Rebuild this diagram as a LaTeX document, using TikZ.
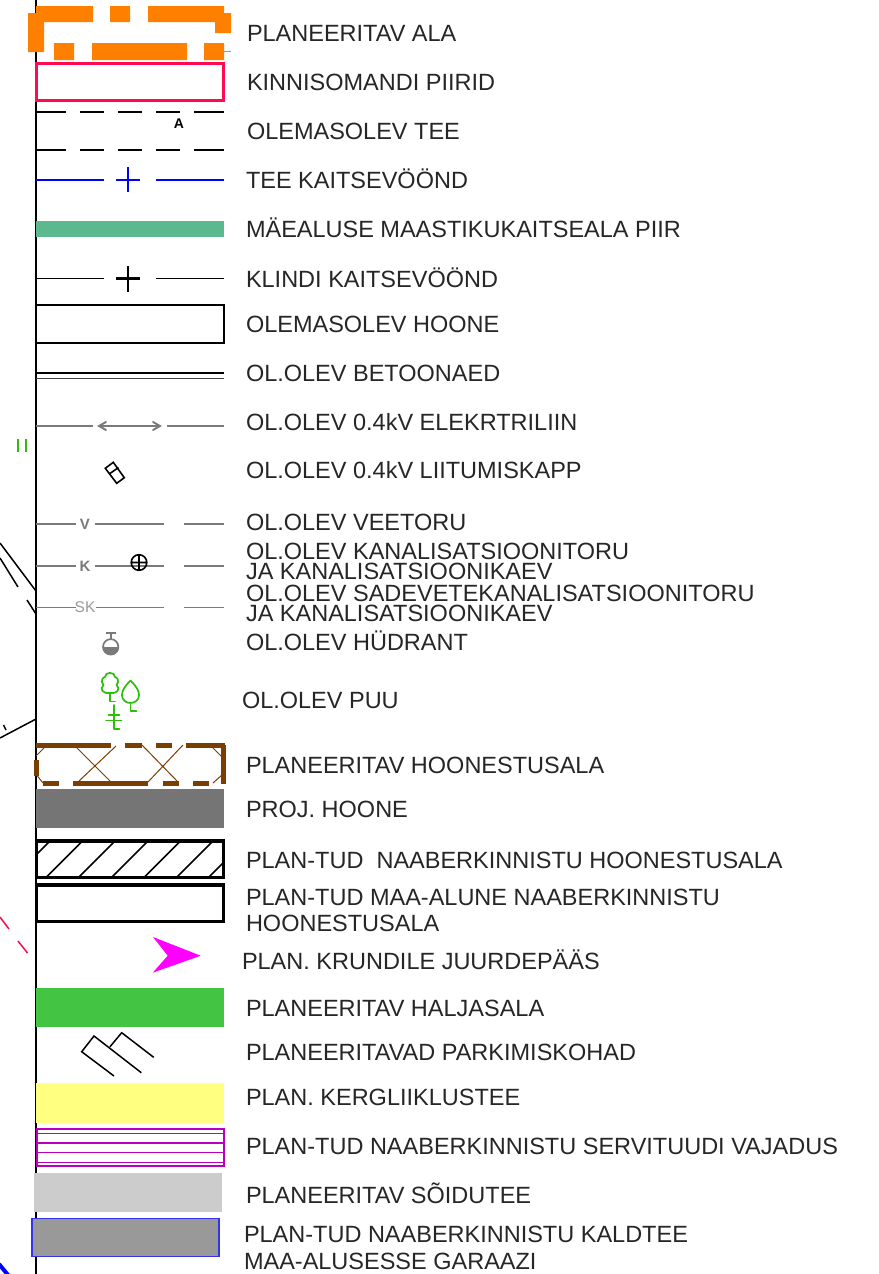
\documentclass[tikz,border=0pt]{standalone}
\usepackage{fontspec}
\setmainfont{Liberation Sans}
\definecolor{orng}{HTML}{FF8000}
\definecolor{crim}{HTML}{FF0A50}
\definecolor{seag}{HTML}{5CB88F}
\definecolor{lin}{HTML}{7A7A7A}
\definecolor{tree}{HTML}{2DBE0A}
\definecolor{brwn}{HTML}{7A3E00}
\definecolor{purp}{HTML}{BB00BB}
\definecolor{magn}{HTML}{FF00FF}
\definecolor{grass}{HTML}{43C443}
\definecolor{yell}{HTML}{FFFF80}
\definecolor{edgeblue}{HTML}{3333EE}
\tikzset{
  lbl/.style={anchor=base west,inner sep=0pt,outer sep=0pt,text=black!85,font=\fontsize{23.5}{23.5}\selectfont},
  small/.style={anchor=center,inner sep=0pt,text=lin,font=\bfseries\fontsize{15}{15}\selectfont},
  gline/.style={draw=lin,line width=1.7pt},
  fine/.style={draw=brwn,line width=1pt},
  brown/.style={draw=brwn,line width=4.8pt},
  tr/.style={draw=tree,line width=1.7pt,line cap=round,line join=round},
}
\begin{document}
\begin{tikzpicture}[x=1pt,y=-1pt]
\useasboundingbox (0,0) rectangle (878,1274);
\fill[white] (0,0) rectangle (878,1274);
% axis line and background fragments
\draw[black,line width=1.2pt] (36,0) -- (36,1274);
\draw[black,line width=1.5pt] (0,543) -- (36,591) (0,558) -- (18,587) (27,600) -- (36,614);
\draw[black,line width=1.5pt] (0,738) -- (36,719) (3.5,725) -- (6,730);
\draw[crim,line width=1.5pt] (0,917) -- (9,929) (18,941) -- (27.5,953);
\draw[blue,line width=4pt] (-1,1264) -- (8,1275);
\draw[tree,line width=1.5pt] (18,439) -- (18,452) (26,439) -- (26,452);
% planeeritav ala
\fill[orng] (36,6) rectangle (93,22) (110,6) rectangle (130,22) (148,6) rectangle (224,22)
  (28,13) rectangle (44,52) (215,13) rectangle (231,33)
  (54,43) rectangle (74,60) (92,43) rectangle (187,60) (204,43) rectangle (224,60);
\draw[orng,line width=0.8pt] (224,51.5) -- (231,51.5);
% kinnisomandi
\draw[crim,line width=3pt] (36.5,63) rectangle (223,100);
% tee
\draw[black,line width=1.8pt] (36,112) -- (66,112) (80,112) -- (104,112) (118,112) -- (142,112) (156,112) -- (180,112) (194,112) -- (224,112);
\draw[black,line width=1.8pt] (36,150) -- (66,150) (80,150) -- (104,150) (118,150) -- (142,150) (156,150) -- (180,150) (194,150) -- (224,150);
\node[anchor=center,inner sep=0pt,font=\bfseries\fontsize{14}{14}\selectfont] (teeA) at (179,124) {A};
% tee kaitsevoond
\draw[blue,line width=1.5pt] (36,180) -- (104,180) (156,180) -- (224,180);
\draw[blue,line width=2.8pt] (128,167) -- (128,192) (116,180) -- (140,180);
% maealuse
\fill[seag] (36,221) rectangle (224,237);
% klindi
\draw[black,line width=1.5pt] (36,278.3) -- (104,278.3) (156,278.3) -- (224,278.3);
\draw[black,line width=2.8pt] (128,266) -- (128,291.5) (116,278.3) -- (140,278.3);
% hoone
\draw[black,line width=2pt] (36.3,305) rectangle (223.5,342.7);
% betoonaed
\draw[black,line width=2pt] (36,372.7) -- (224,372.7);
\draw[black!75,line width=1.4pt] (36,378.3) -- (224,378.3);
% elektriliin
\draw[gline] (36,426) -- (93,426) (167,426) -- (224,426);
\draw[gline,line width=1.9pt,line cap=round] (99,426) -- (160,426) (106,422) -- (99,426) -- (106,430) (153,422) -- (160,426) -- (153,430);
% liitumiskapp
\draw[black,line width=1.6pt] (105.3,468.3) -- (113.3,462.3) -- (124.3,477.7) -- (116.7,483.3) -- cycle (109.5,473.8) -- (118.5,467.5);
% veetoru
\draw[gline] (36,524) -- (76,524) (95,524) -- (164,524) (184,524) -- (224,524);
\node[small] (vv) at (85,524) {V};
% kanal
\draw[gline] (36,566) -- (76,566) (95,566) -- (164,566) (184,566) -- (224,566);
\node[small] (kk) at (85,566) {K};
\draw[black,line width=1.6pt] (139,562.5) circle (7.8) (131,562.5) -- (147,562.5) (139,554.5) -- (139,570.5);
% sade
\draw[lin,line width=1pt] (36,607) -- (76,607) (96,607) -- (164,607) (184,607) -- (224,607);
\node[small,text=black!40,font=\fontsize{15.5}{15.5}\selectfont] (sk) at (85,607.5) {SK};
% hydrant
\draw[lin,line width=1.7pt] (110.7,633) -- (110.7,639) (106,633) -- (116,633);
\draw[lin,line width=1.7pt] (110.7,646.7) circle (7.6);
\fill[lin] (102.3,647) arc[start angle=180,end angle=360,x radius=8.4,y radius=-8.4];
% puud
\draw[tr] (110,693) -- (110,701.5) -- (115,701.5);
\draw[tr] (110,693) .. controls (103,694) and (99,689) .. (103.5,685) .. controls (100,681) and (103,677) .. (105,677) .. controls (105,671.5) and (115,671.5) .. (115,677) .. controls (117,677) and (120,681) .. (116.5,685) .. controls (121,689) and (117,694) .. (110,693);
\draw[tr] (130.5,680.5) .. controls (124,687) and (122,691) .. (122,695) .. controls (122,700) and (126,703) .. (130.5,703) .. controls (135,703) and (139,700) .. (139,695) .. controls (139,691) and (137,687) .. (130.5,680.5);
\draw[tr] (130.5,703) -- (130.5,711) -- (136.5,711);
\draw[tr] (114,705) -- (114,729) -- (119.5,729) (108.5,715) -- (119.5,715) (106,720.5) -- (121.5,720.5);
% hoonestusala
\draw[brown] (36,745.7) -- (111,745.7) (125,745.7) -- (142,745.7) (156,745.7) -- (172,745.7) (186,745.7) -- (225,745.7);
\draw[brown] (43,783.3) -- (59,783.3) (73,783.3) -- (148,783.3) (163,783.3) -- (179,783.3) (193,783.3) -- (209,783.3);
\draw[brown] (36.5,760) -- (36.5,776) (223.8,745) -- (223.8,784);
\draw[fine] (76,747) -- (110,781) (116,746) -- (79,781) (142,745) -- (177,781) (183,745) -- (148,782);
\draw[fine] (45,747) -- (36,756) (35,773) -- (43,783) (212,747) -- (222,757) (222,775) -- (213,783);
% proj hoone
\fill[lin!96!black] (36,789) rectangle (224,828);
% hatched
\begin{scope}
\clip (36,840) rectangle (224,878);
\draw[black,line width=1.5pt] (0,891) -- (60,831) (0,923.5) -- (100,823.5) (0,956) -- (140,816) (30,959) -- (170,819) (60,961.5) -- (200,821.5) (90,964) -- (230,824) (120,966) -- (260,826);
\end{scope}
\draw[black,line width=3.8pt] (36.5,841) rectangle (223.5,877.5);
\draw[black,line width=3.8pt] (36.5,885) rectangle (223.5,921.5);
% juurdepaas
\fill[magn] (153,937) -- (200.7,955.7) -- (152.7,972.7) -- (167.7,955.7) -- cycle;
% haljasala
\fill[grass] (36,988) rectangle (224,1027);
% parkimine
\draw[black,line width=1.5pt] (114,1076) -- (81.7,1051.7) -- (94,1036) -- (141.3,1072.7) (110,1046.7) -- (121.7,1032.7) -- (153.7,1057.3);
% kergliiklustee
\fill[yell] (35.5,1083) rectangle (224,1122.5);
% servituut
\draw[purp,line width=2pt] (36.5,1128.5) rectangle (223.5,1166);
\draw[purp,line width=1.4pt] (36.5,1133.3) -- (223.5,1133.3) (36.5,1152.3) -- (223.5,1152.3) (36.5,1162.3) -- (223.5,1162.3);
\draw[purp,line width=1.8pt] (36.5,1142.7) -- (223.5,1142.7);
% soidutee
\fill[black!20] (33.5,1173) rectangle (222,1212);
% kaldtee
\draw[draw=edgeblue,fill=black!40,line width=1.3pt] (32,1218.5) rectangle (219,1256.5);
% labels
\node[lbl] (t1) at (247,41) {PLANEERITAV ALA};
\node[lbl] (t2) at (247,90) {KINNISOMANDI PIIRID};
\node[lbl] (t3) at (247,139.5) {OLEMASOLEV TEE};
\node[lbl] (t4) at (246,188.5) {TEE KAITSEVÖÖND};
\node[lbl] (t5) at (246,237.5) {MÄEALUSE MAASTIKUKAITSEALA PIIR};
\node[lbl] (t6) at (246,287) {KLINDI KAITSEVÖÖND};
\node[lbl] (t7) at (246,332.5) {OLEMASOLEV HOONE};
\node[lbl] (t8) at (246,381.5) {OL.OLEV BETOONAED};
\node[lbl] (t9) at (246,430.5) {OL.OLEV 0.4kV ELEKRTRILIIN};
\node[lbl] (t10) at (246,478.5) {OL.OLEV 0.4kV LIITUMISKAPP};
\node[lbl] (t11) at (246,530) {OL.OLEV VEETORU};
\node[lbl] (t12) at (246,559.5) {OL.OLEV KANALISATSIOONITORU};
\node[lbl] (t13) at (246,579) {JA KANALISATSIOONIKAEV};
\node[lbl] (t14) at (246,601.5) {OL.OLEV SADEVETEKANALISATSIOONITORU};
\node[lbl] (t15) at (246,621) {JA KANALISATSIOONIKAEV};
\node[lbl] (t16) at (246,650.5) {OL.OLEV HÜDRANT};
\node[lbl] (t17) at (242,708) {OL.OLEV PUU};
\node[lbl] (t18) at (246,773.5) {PLANEERITAV HOONESTUSALA};
\node[lbl] (t19) at (246,817.5) {PROJ. HOONE};
\node[lbl] (t20) at (246,868.5) {PLAN-TUD\ \ NAABERKINNISTU HOONESTUSALA};
\node[lbl] (t21) at (246,905.5) {PLAN-TUD MAA-ALUNE NAABERKINNISTU};
\node[lbl] (t22) at (246,931.5) {HOONESTUSALA};
\node[lbl] (t23) at (242,969.5) {PLAN. KRUNDILE JUURDEPÄÄS};
\node[lbl] (t24) at (246,1016.5) {PLANEERITAV HALJASALA};
\node[lbl] (t25) at (246,1060.5) {PLANEERITAVAD PARKIMISKOHAD};
\node[lbl] (t26) at (246,1105.5) {PLAN. KERGLIIKLUSTEE};
\node[lbl] (t27) at (246,1154.5) {PLAN-TUD NAABERKINNISTU SERVITUUDI VAJADUS};
\node[lbl] (t28) at (246,1203.5) {PLANEERITAV SÕIDUTEE};
\node[lbl] (t29) at (244,1242.5) {PLAN-TUD NAABERKINNISTU KALDTEE};
\node[lbl] (t30) at (244,1269.5) {MAA-ALUSESSE GARAAZI};
\end{tikzpicture}
\end{document}
